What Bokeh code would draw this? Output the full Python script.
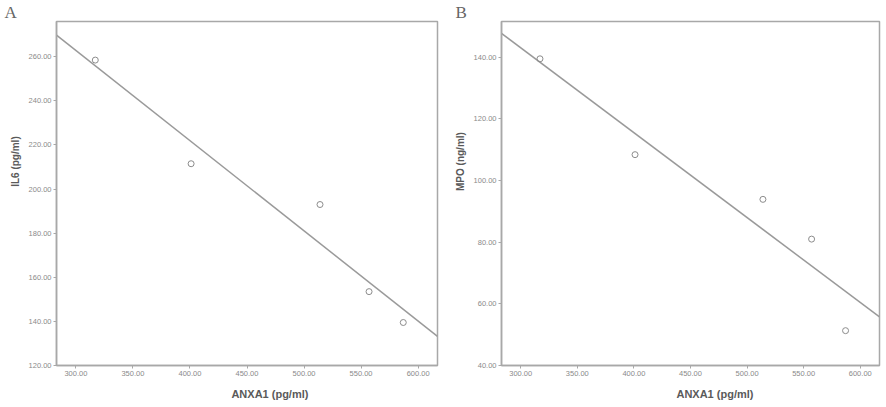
import numpy as np
from bokeh.plotting import figure
from bokeh.layouts import row
from bokeh.models import Range1d, FixedTicker, PrintfTickFormatter
from bokeh.embed import file_html
from bokeh.resources import INLINE

# ---- data ----
anxa1 = [317, 401, 514, 557, 587]
il6 = [258.5, 211.5, 193.0, 153.5, 139.5]
mpo = [139.5, 108.4, 93.9, 81.0, 51.3]
x_ticks = [300, 350, 400, 450, 500, 550, 600]
il6_ticks = [120, 140, 160, 180, 200, 220, 240, 260]
mpo_ticks = [40, 60, 80, 100, 120, 140]
x_label = "ANXA1  (pg/ml)"
il6_label = "IL6  (pg/ml)"
mpo_label = "MPO  (ng/ml)"

GRAY = "#a8a8a8"
TICK_GRAY = "#8a8a8a"
LABEL_GRAY = "#5a5a5a"
H = 405
BOTTOM = 365
XR = (283, 617)
NB = "\u00a0"


def make_panel(y, yticks, yr, width, left, right, letter, letter_off, ylab, ylab_pad,
               ylab_standoff, xlab_pad):
    p = figure(width=width, height=H, output_backend="svg", toolbar_location=None,
               x_range=Range1d(*XR), y_range=Range1d(*yr),
               min_border_left=left, min_border_right=right,
               min_border_top=0, min_border_bottom=H - BOTTOM)
    p.xgrid.visible = False
    p.ygrid.visible = False
    p.outline_line_color = GRAY
    p.outline_line_width = 1.5
    p.outline_line_alpha = 1
    for ax in (p.xaxis[0], p.yaxis[0]):
        ax.axis_line_color = GRAY
        ax.axis_line_width = 1.5
        ax.major_tick_line_color = GRAY
        ax.major_tick_in = 0
        ax.major_tick_out = 3
        ax.minor_tick_line_color = None
        ax.major_label_text_font = "Liberation Sans"
        ax.major_label_text_font_size = "7.5px"
        ax.major_label_text_color = TICK_GRAY
        ax.major_label_standoff = 2
        ax.formatter = PrintfTickFormatter(format="%.2f")
        ax.axis_label_text_font = "Liberation Sans"
        ax.axis_label_text_font_style = "bold"
        ax.axis_label_text_color = LABEL_GRAY
    p.xaxis[0].ticker = FixedTicker(ticks=x_ticks)
    p.yaxis[0].ticker = FixedTicker(ticks=yticks)
    p.xaxis[0].axis_label = NB * xlab_pad + x_label
    p.xaxis[0].axis_label_text_font_size = "11px"
    p.xaxis[0].axis_label_standoff = 9
    p.yaxis[0].axis_label = NB * ylab_pad + ylab
    p.yaxis[0].axis_label_text_font_size = "10px"
    p.yaxis[0].axis_label_standoff = ylab_standoff

    # panel letter
    p.title.text = letter
    p.title.align = "left"
    p.title.offset = letter_off
    p.title.standoff = 0
    p.title.text_font = "Liberation Serif"
    p.title.text_font_size = "17px"
    p.title.text_font_style = "normal"
    p.title.text_color = "#666666"

    # regression line
    k, b = np.polyfit(anxa1, y, 1)
    xs = list(XR)
    p.line(xs, [k * v + b for v in xs], line_color="#9a9a9a", line_width=1.5)
    p.scatter(anxa1, y, size=6, marker="circle", fill_color=None,
              line_color="#8c8c8c", line_width=1)
    return p


pA = make_panel(il6, il6_ticks, (120, 276), 451, 56, 14, "A", -52, il6_label, 24, 5, 16)
pB = make_panel(mpo, mpo_ticks, (40, 151.6), 433, 49, 5, "B", -46, mpo_label, 24, 5, 17)

lay = row(pA, pB)
open("out.html", "w").write(file_html(lay, INLINE))
